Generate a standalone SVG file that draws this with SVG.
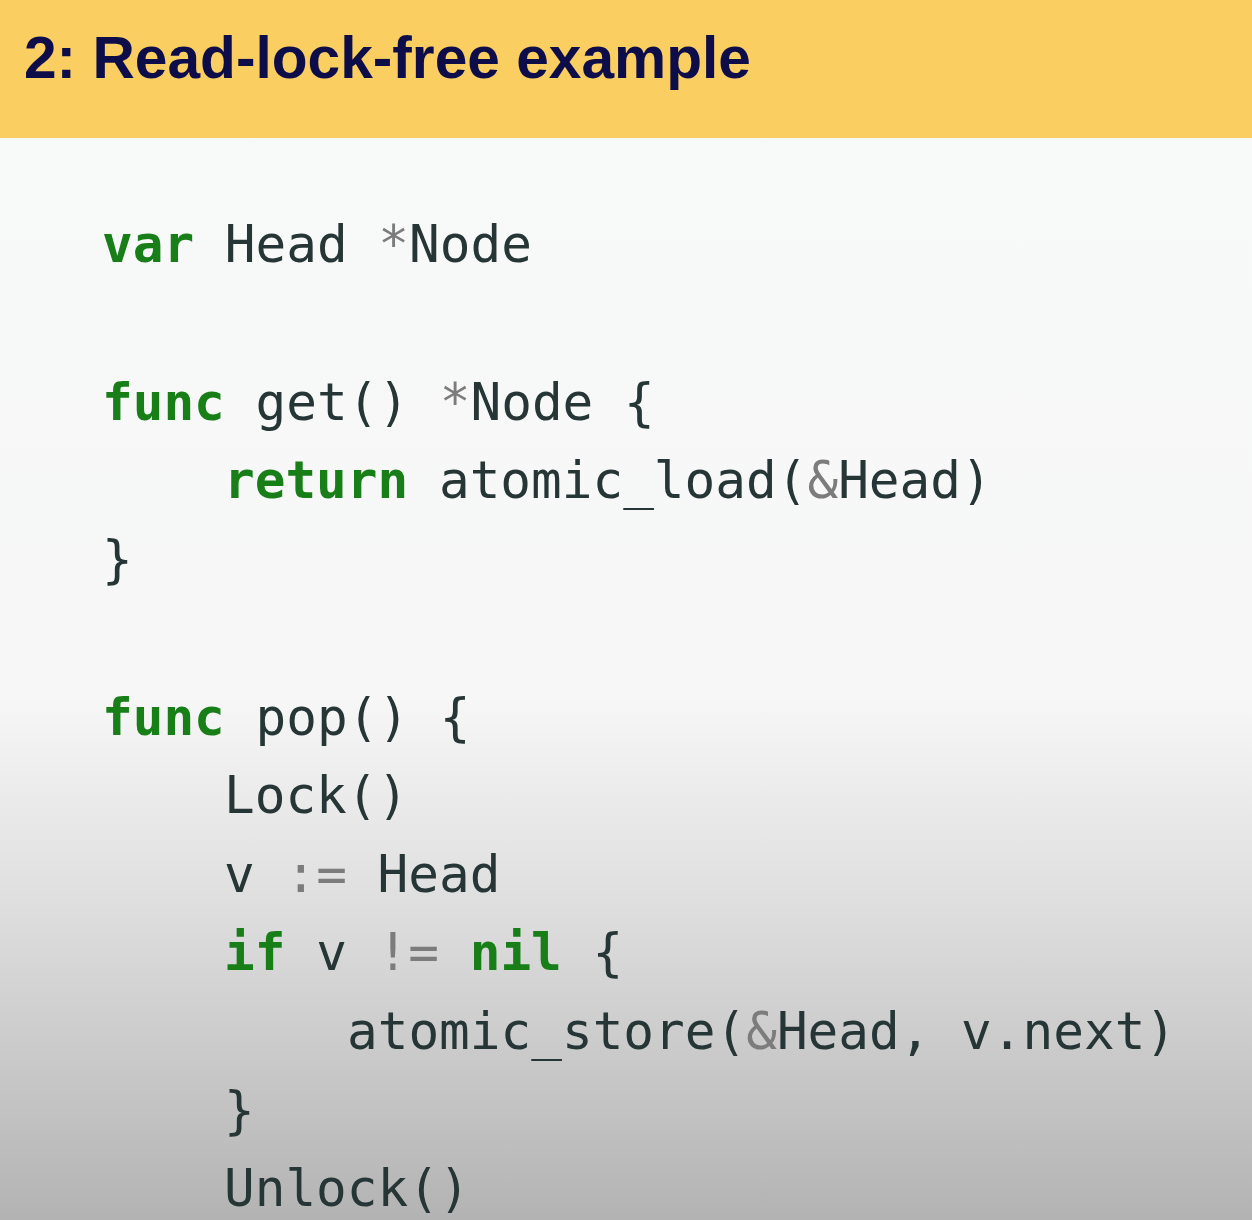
<svg xmlns="http://www.w3.org/2000/svg" width="1252" height="1220" viewBox="0 0 1252 1220">
<defs>
<linearGradient id="bg" x1="0" y1="0" x2="0" y2="1220" gradientUnits="userSpaceOnUse">
<stop offset="0" stop-color="#F8F9F9"/>
<stop offset="0.57" stop-color="#F7F7F7"/>
<stop offset="0.75" stop-color="#DDDDDD"/>
<stop offset="1" stop-color="#B3B3B3"/>
</linearGradient>
<style>
.code{font-family:"DejaVu Sans Mono","Liberation Mono",monospace;font-size:51px;fill:#263535;white-space:pre}
.kw{fill:#187F18;font-weight:bold}
.op{fill:#7C7C7C}
.title{font-family:"Liberation Sans",Arial,sans-serif;font-weight:bold;font-size:60px;fill:#0D0D4A}
</style>
</defs>
<rect id="background" x="0" y="0" width="1252" height="1220" fill="url(#bg)"/>
<g id="header">
<rect x="0" y="0" width="1252" height="138" fill="#FBCE62"/>
<text class="title" x="24" y="78" textLength="727" lengthAdjust="spacingAndGlyphs">2: Read-lock-free example</text>
</g>
<g id="code">
<text class="code" x="102" y="262" xml:space="preserve"><tspan class="kw">var</tspan> Head <tspan class="op">*</tspan>Node</text>
<text class="code" x="102" y="420" xml:space="preserve"><tspan class="kw">func</tspan> get() <tspan class="op">*</tspan>Node {</text>
<text class="code" x="224" y="498" xml:space="preserve"><tspan class="kw">return</tspan> atomic_load(<tspan class="op">&amp;</tspan>Head)</text>
<text class="code" x="102" y="577" xml:space="preserve">}</text>
<text class="code" x="102" y="735" xml:space="preserve"><tspan class="kw">func</tspan> pop() {</text>
<text class="code" x="224" y="813" xml:space="preserve">Lock()</text>
<text class="code" x="224" y="892" xml:space="preserve">v <tspan class="op">:=</tspan> Head</text>
<text class="code" x="224" y="970" xml:space="preserve"><tspan class="kw">if</tspan> v <tspan class="op">!=</tspan> <tspan class="kw">nil</tspan> {</text>
<text class="code" x="347" y="1049" xml:space="preserve">atomic_store(<tspan class="op">&amp;</tspan>Head, v.next)</text>
<text class="code" x="224" y="1128" xml:space="preserve">}</text>
<text class="code" x="224" y="1206" xml:space="preserve">Unlock()</text>
</g>
</svg>
